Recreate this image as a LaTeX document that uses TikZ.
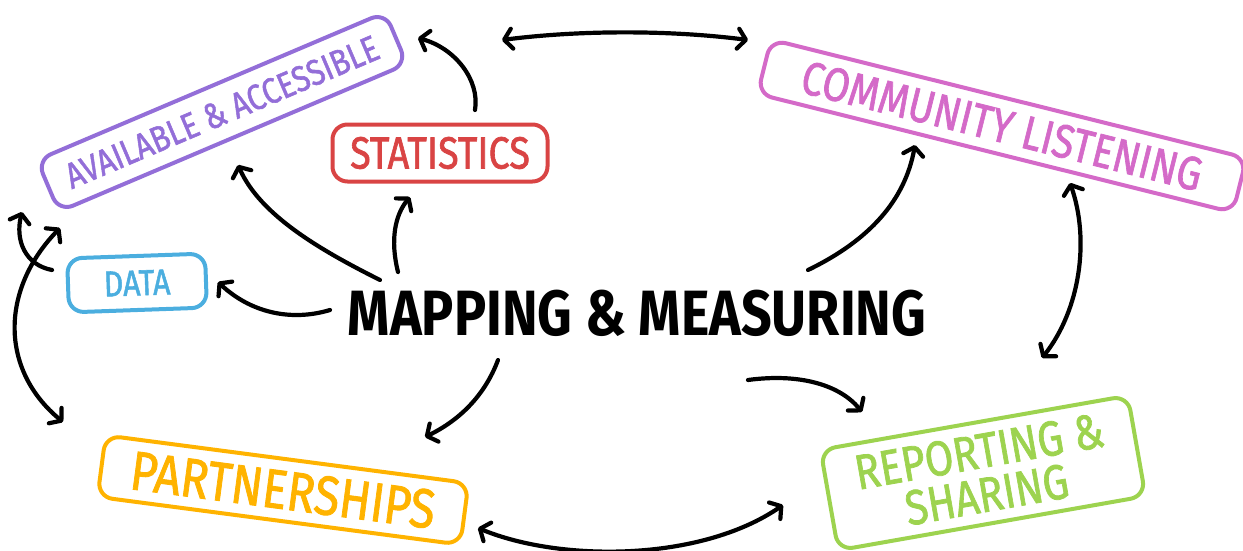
\documentclass[tikz,border=0pt]{standalone}
\usepackage{fontspec}
\setmainfont{Fira Sans}
\newfontfamily\semib{Fira Sans}[FakeBold=1.6]
\usetikzlibrary{arrows.meta}
\definecolor{cpurple}{RGB}{147,110,216}
\definecolor{cred}{RGB}{217,68,68}
\definecolor{cmag}{RGB}{212,106,200}
\definecolor{cblue}{RGB}{75,174,223}
\definecolor{corange}{RGB}{255,179,0}
\definecolor{cgreen}{RGB}{157,211,79}
\newcommand{\hs}[1]{\scalebox{0.84}[1]{#1}}
\tikzset{
  box/.style={draw, line width=4pt, rounded corners=15pt, inner sep=0pt, align=center},
  tip/.tip={Straight Barb[length=8pt,width=20pt,round]},
  con/.style={line width=4.2pt, line cap=round, -tip},
  dcon/.style={line width=4.2pt, line cap=round, tip-tip}
}
\begin{document}
\begin{tikzpicture}[x=1pt,y=-1pt]
\useasboundingbox (0,0) rectangle (1243,551);
% boxes
\node[box, cpurple, text=cpurple, rotate=23, minimum width=378pt, minimum height=56pt, font=\semib\fontsize{36}{36}\selectfont] (avail) at (222,112) {\hs{AVAILABLE \& ACCESSIBLE}};
\node[box, cred, text=cred, minimum width=215pt, minimum height=57pt, font=\semib\fontsize{45}{45}\selectfont] (stat) at (440,153) {\hs{STATISTICS}};
\node[box, cmag, text=cmag, rotate=-14, minimum width=490pt, minimum height=56pt, font=\semib\fontsize{47}{47}\selectfont] (comm) at (1002,126) {\hs{COMMUNITY LISTENING}};
\node[box, cblue, text=cblue, rotate=2, minimum width=138pt, minimum height=54pt, font=\semib\fontsize{36}{36}\selectfont] (data) at (137,283) {\hs{DATA}};
\node[box, corange, text=corange, rotate=-7.5, minimum width=366pt, minimum height=62pt, font=\semib\fontsize{55}{55}\selectfont] (part) at (283,490) {\hs{PARTNERSHIPS}};
\node[box, cgreen, text=cgreen, rotate=10, minimum width=312pt, minimum height=102pt, font=\semib\fontsize{49}{44}\selectfont] (rep) at (983,473) {\hs{REPORTING \&}\\\hs{SHARING}};
\node[font=\bfseries\fontsize{64}{64}\selectfont] (map) at (637,313) {\scalebox{0.84}[1]{MAPPING \& MEASURING}};
% connector end points
\coordinate (a1) at (502,40);  \coordinate (a2) at (748,40);
\coordinate (b1) at (475,110); \coordinate (b2) at (418,38);
\coordinate (c1) at (380,280); \coordinate (c2) at (238,165);
\coordinate (d1) at (398,272); \coordinate (d2) at (410,197);
\coordinate (e1) at (330,310); \coordinate (e2) at (218,282);
\coordinate (f1) at (808,270); \coordinate (f2) at (915,145);
\coordinate (g1) at (1070,183); \coordinate (g2) at (1042,358);
\coordinate (h1) at (748,380); \coordinate (h2) at (862,412);
\coordinate (i1) at (498,360); \coordinate (i2) at (425,437);
\coordinate (j1) at (478,528); \coordinate (j2) at (783,505);
\coordinate (k1) at (52,270);  \coordinate (k2) at (22,212);
\coordinate (l1) at (60,228);  \coordinate (l2) at (63,422);
% connectors
\draw[dcon] (a1) .. controls (580,30) and (670,30) .. (a2);
\draw[con] (b1) .. controls (480,80) and (455,48) .. (b2);
\draw[con] (c1) .. controls (320,250) and (260,215) .. (c2);
\draw[con] (d1) .. controls (390,240) and (395,215) .. (d2);
\draw[con] (e1) .. controls (290,322) and (250,312) .. (e2);
\draw[con] (f1) .. controls (870,240) and (905,200) .. (f2);
\draw[dcon] (g1) .. controls (1090,240) and (1080,310) .. (g2);
\draw[con] (h1) .. controls (800,373) and (840,385) .. (h2);
\draw[con] (i1) .. controls (485,395) and (460,420) .. (i2);
\draw[dcon] (j1) .. controls (560,562) and (700,562) .. (j2);
\draw[con] (k1) .. controls (25,265) and (15,240) .. (k2);
\draw[dcon] (l1) .. controls (0,290) and (0,370) .. (l2);
\end{tikzpicture}
\end{document}
